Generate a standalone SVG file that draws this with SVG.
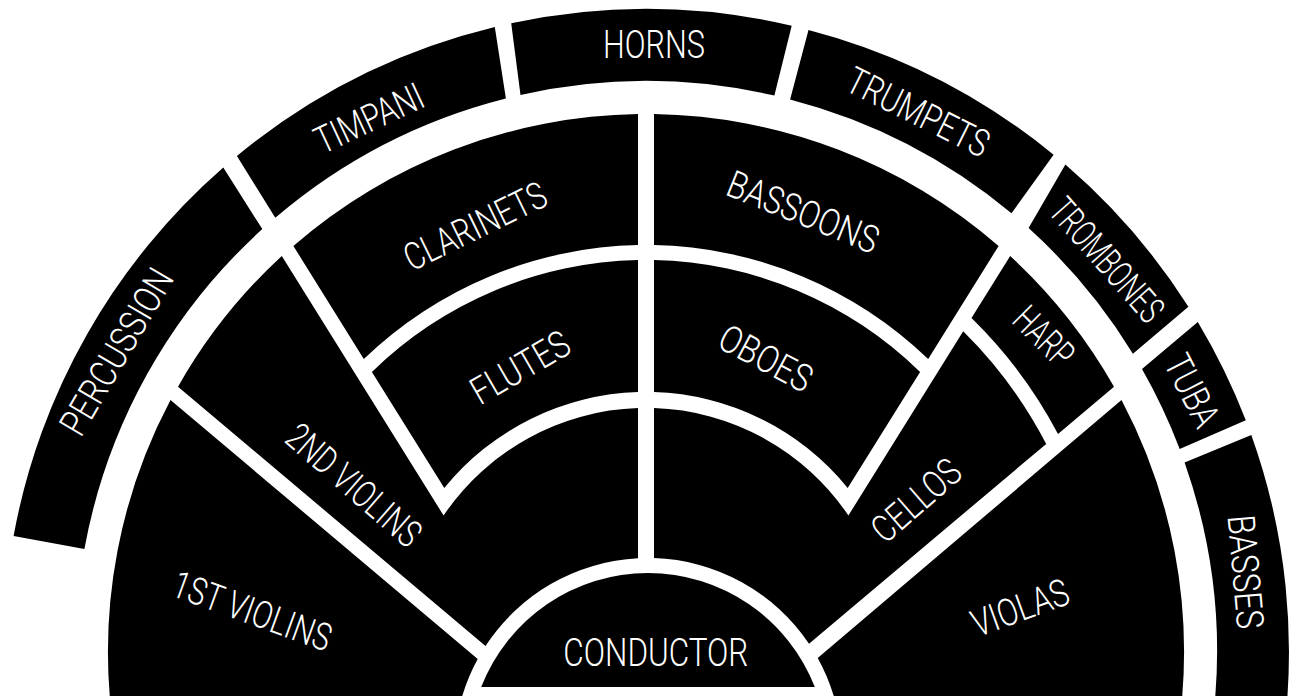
<svg xmlns="http://www.w3.org/2000/svg" width="1292" height="696" viewBox="0 0 1292 696">
<style>
.sec{fill:#000;}
.lb{fill:#fff;font-family:Roboto,"Liberation Sans",Arial,sans-serif;font-weight:300;font-size:38px;text-anchor:middle;}
</style>
<rect x="0" y="0" width="1292" height="696" fill="#fff"/>
<g id="percussion"><path class="sec" d="M13.6 535.9 A643 643 0 0 1 223.3 167.5 L262.3 229.1 A571 571 0 0 0 84.4 548.9 Z"/>
<text class="lb" font-size="36" transform="translate(116.7 351.7) rotate(-59.5)" y="13" textLength="186" lengthAdjust="spacingAndGlyphs">PERCUSSION</text></g>
<g id="timpani"><path class="sec" d="M236.9 155.9 A643 643 0 0 1 494.8 27 L505.9 98.4 A571 571 0 0 0 275.3 217.7 Z"/>
<text class="lb" transform="translate(369 118) rotate(-25)" y="13.5" textLength="116" lengthAdjust="spacingAndGlyphs">TIMPANI</text></g>
<g id="horns"><path class="sec" d="M511.2 23.3 A643 643 0 0 1 791.7 25.7 L774.4 95.6 A571 571 0 0 0 520.5 95 Z"/>
<text class="lb" font-size="41" transform="translate(654 43.3)" y="14.7" textLength="102" lengthAdjust="spacingAndGlyphs">HORNS</text></g>
<g id="trumpets"><path class="sec" d="M808.5 29.9 A643 643 0 0 1 1053.6 154.7 L1011.5 213.3 A571 571 0 0 0 790.1 99.5 Z"/>
<text class="lb" transform="translate(918.3 111.7) rotate(26.5)" y="13.5" textLength="154" lengthAdjust="spacingAndGlyphs">TRUMPETS</text></g>
<g id="trombones"><path class="sec" d="M1065.4 164.6 A643 643 0 0 1 1188.4 306.7 L1132.9 353.7 A571 571 0 0 0 1028.6 228.1 Z"/>
<text class="lb" font-size="30" transform="translate(1105 261.7) rotate(48.5)" y="10.7" textLength="151" lengthAdjust="spacingAndGlyphs">TROMBONES</text></g>
<g id="tuba"><path class="sec" d="M1197.8 322 A643 643 0 0 1 1245.8 420.3 L1179.7 449.1 A571 571 0 0 0 1142 369.1 Z"/>
<text class="lb" font-size="36" transform="translate(1191.7 390.8) rotate(63)" y="12.8" textLength="76" lengthAdjust="spacingAndGlyphs">TUBA</text></g>
<g id="basses"><path class="sec" d="M1251.3 435.1 A643 643 0 0 1 1282.7 741.5 L1211.4 731.5 A571 571 0 0 0 1184.6 462.4 Z"/>
<text class="lb" font-size="40" transform="translate(1246.7 571.7) rotate(85)" y="14.3" textLength="114" lengthAdjust="spacingAndGlyphs">BASSES</text></g>
<g id="violins1"><path class="sec" d="M111.1 710 A538 538 0 0 1 170.5 400 L477.7 659 A194 194 0 0 0 458.6 710 Z"/>
<text class="lb" font-size="40" transform="translate(252.5 610) rotate(20)" y="14.3" textLength="166" lengthAdjust="spacingAndGlyphs">1ST VIOLINS</text></g>
<g id="violins2"><path class="sec" d="M178 386.7 A538 538 0 0 1 281.8 256 L443.6 515.5 A244 244 0 0 1 638 408.1 L638 558.3 A194 194 0 0 0 485.5 646 Z"/>
<text class="lb" transform="translate(354 485) rotate(41)" y="13.5" textLength="165" lengthAdjust="spacingAndGlyphs">2ND VIOLINS</text></g>
<g id="clarinets"><path class="sec" d="M293.4 246 A538 538 0 0 1 638 114.1 L638 245.1 A407 407 0 0 0 363.8 359 Z"/>
<text class="lb" transform="translate(475 225.8) rotate(-26)" y="13.5" textLength="154" lengthAdjust="spacingAndGlyphs">CLARINETS</text></g>
<g id="flutes"><path class="sec" d="M371.9 372 A392 392 0 0 1 638 260.1 L638 392.1 A260 260 0 0 0 444.3 488 Z"/>
<text class="lb" transform="translate(520 367) rotate(-30)" y="13.5" textLength="108" lengthAdjust="spacingAndGlyphs">FLUTES</text></g>
<g id="bassoons"><path class="sec" d="M998.6 246 A538 538 0 0 0 654 114.1 L654 245.1 A407 407 0 0 1 928.2 359 Z"/>
<text class="lb" transform="translate(803.3 211.7) rotate(22)" y="13.5" textLength="160" lengthAdjust="spacingAndGlyphs">BASSOONS</text></g>
<g id="oboes"><path class="sec" d="M920.1 372 A392 392 0 0 0 654 260.1 L654 392.1 A260 260 0 0 1 847.7 488 Z"/>
<text class="lb" transform="translate(766 358) rotate(28)" y="13.5" textLength="100" lengthAdjust="spacingAndGlyphs">OBOES</text></g>
<g id="harp"><path class="sec" d="M971.5 318 L1010.2 256 A538 538 0 0 1 1114 386.7 L1058 434 A466 466 0 0 0 971.5 318 Z"/>
<text class="lb" font-size="33" transform="translate(1043 337.5) rotate(45)" y="11.8" textLength="68" lengthAdjust="spacingAndGlyphs">HARP</text></g>
<g id="cellos"><path class="sec" d="M848.4 515.5 L963.2 331.3 A451 451 0 0 1 1046.2 443.9 L809 643.8 A194 194 0 0 0 654 558.1 L654 408.1 A244 244 0 0 1 848.4 515.5 Z"/>
<text class="lb" transform="translate(916 500) rotate(-41)" y="13.5" textLength="105" lengthAdjust="spacingAndGlyphs">CELLOS</text></g>
<g id="violas"><path class="sec" d="M1180.9 710 A538 538 0 0 0 1121.5 400 L817.7 658 A194 194 0 0 1 837.4 710 Z"/>
<text class="lb" transform="translate(1020 607.5) rotate(-20)" y="13.5" textLength="101" lengthAdjust="spacingAndGlyphs">VIOLAS</text></g>
<g id="conductor"><path class="sec" d="M481.2 687 A179 179 0 0 1 814.8 687 Z"/>
<text class="lb" font-size="40" transform="translate(655.8 651.5)" y="14.3" textLength="185" lengthAdjust="spacingAndGlyphs">CONDUCTOR</text></g>
<g id="connectors"/>
</svg>
